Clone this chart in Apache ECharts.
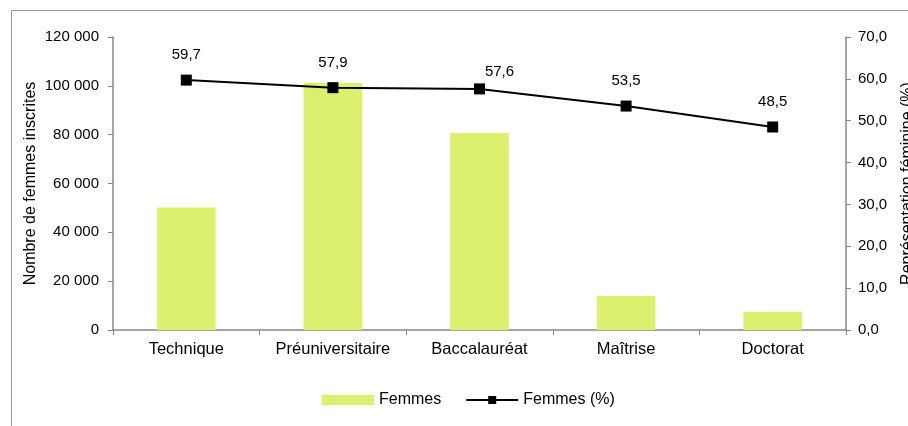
<!DOCTYPE html>
<html><head><meta charset="utf-8">
<script src="https://cdn.jsdelivr.net/npm/echarts@6/dist/echarts.min.js"></script>
<style>html,body{margin:0;padding:0;background:#fff}#c{width:908px;height:426px}</style>
</head><body><div id="c"></div>
<script>
const categories = ["Technique", "Préuniversitaire", "Baccalauréat", "Maîtrise", "Doctorat"];
const femmes = [50200, 101200, 80700, 13900, 7500];
const femmesPct = [59.7, 57.9, 57.6, 53.5, 48.5];
const leftTicks = [0, 20000, 40000, 60000, 80000, 100000, 120000];
const rightTicks = [0, 10, 20, 30, 40, 50, 60, 70];

const font = "Liberation Sans, Arial, sans-serif";
const fs = 15;
const axisGray = "#888888";
const chart = echarts.init(document.getElementById('c'), null, {renderer: 'canvas'});
chart.setOption({
  animation: false,
  textStyle: {fontFamily: font},
  graphic: [{type: 'rect', shape: {x: 11.5, y: 10.5, width: 1000, height: 1000}, style: {fill: 'none', stroke: '#999', lineWidth: 1}, silent: true}],
  grid: {left: 113, right: 62, top: 37, bottom: 96, containLabel: false, outerBoundsMode: 'none'},
  legend: {
    bottom: 13, left: 317, itemGap: 24, itemWidth: 52, itemHeight: 10,
    textStyle: {fontFamily: font, fontSize: 16, color: '#000'},
    data: [{name: 'Femmes', icon: 'rect'}, {name: 'Femmes (%)'}]
  },
  xAxis: {
    type: 'category', data: categories,
    axisLine: {lineStyle: {color: axisGray, width: 1.5}},
    axisTick: {show: true, interval: 0, length: 5, lineStyle: {color: axisGray}},
    axisLabel: {color: '#000', fontSize: 16.5, fontFamily: font, margin: 11, interval: 0, hideOverlap: false}
  },
  yAxis: [{
    type: 'value', min: leftTicks[0], max: leftTicks[leftTicks.length-1], interval: 20000,
    name: 'Nombre de femmes inscrites', nameLocation: 'middle', nameGap: 74, nameRotate: 90,
    nameMoveOverlap: false,
    nameTextStyle: {color: '#000', fontSize: 16, fontFamily: font},
    axisLine: {show: true, lineStyle: {color: axisGray, width: 1.5}},
    axisTick: {show: true, length: 5, lineStyle: {color: axisGray}},
    splitLine: {show: false},
    axisLabel: {color: '#000', fontSize: fs, fontFamily: font, margin: 14,
      formatter: v => String(v).replace(/\B(?=(\d{3})+(?!\d))/g, ' ')}
  }, {
    type: 'value', min: rightTicks[0], max: rightTicks[rightTicks.length-1], interval: 10,
    name: 'Représentation féminine (%)', nameLocation: 'middle', nameGap: 54, nameRotate: 90,
    nameMoveOverlap: false,
    nameTextStyle: {color: '#000', fontSize: 16, fontFamily: font},
    axisLine: {show: true, lineStyle: {color: axisGray, width: 1.5}},
    axisTick: {show: true, length: 5, lineStyle: {color: axisGray}},
    splitLine: {show: false},
    axisLabel: {color: '#000', fontSize: fs, fontFamily: font, margin: 12,
      formatter: v => v.toFixed(1).replace('.', ',')}
  }],
  series: [{
    name: 'Femmes', type: 'bar', data: femmes, barWidth: '40%', yAxisIndex: 0,
    itemStyle: {color: '#DCEF6E'}
  }, {
    name: 'Femmes (%)', type: 'line', yAxisIndex: 1,
    data: femmesPct.map((v, i) => i === 2 ? {value: v, label: {offset: [20, 8]}} : v),
    symbol: 'rect', symbolSize: 11,
    lineStyle: {color: '#000', width: 2}, itemStyle: {color: '#000'},
    label: {show: true, position: 'top', distance: 12, color: '#000', fontSize: fs, fontFamily: font,
      formatter: p => p.value.toFixed(1).replace('.', ',')}
  }]
});
</script></body></html>
